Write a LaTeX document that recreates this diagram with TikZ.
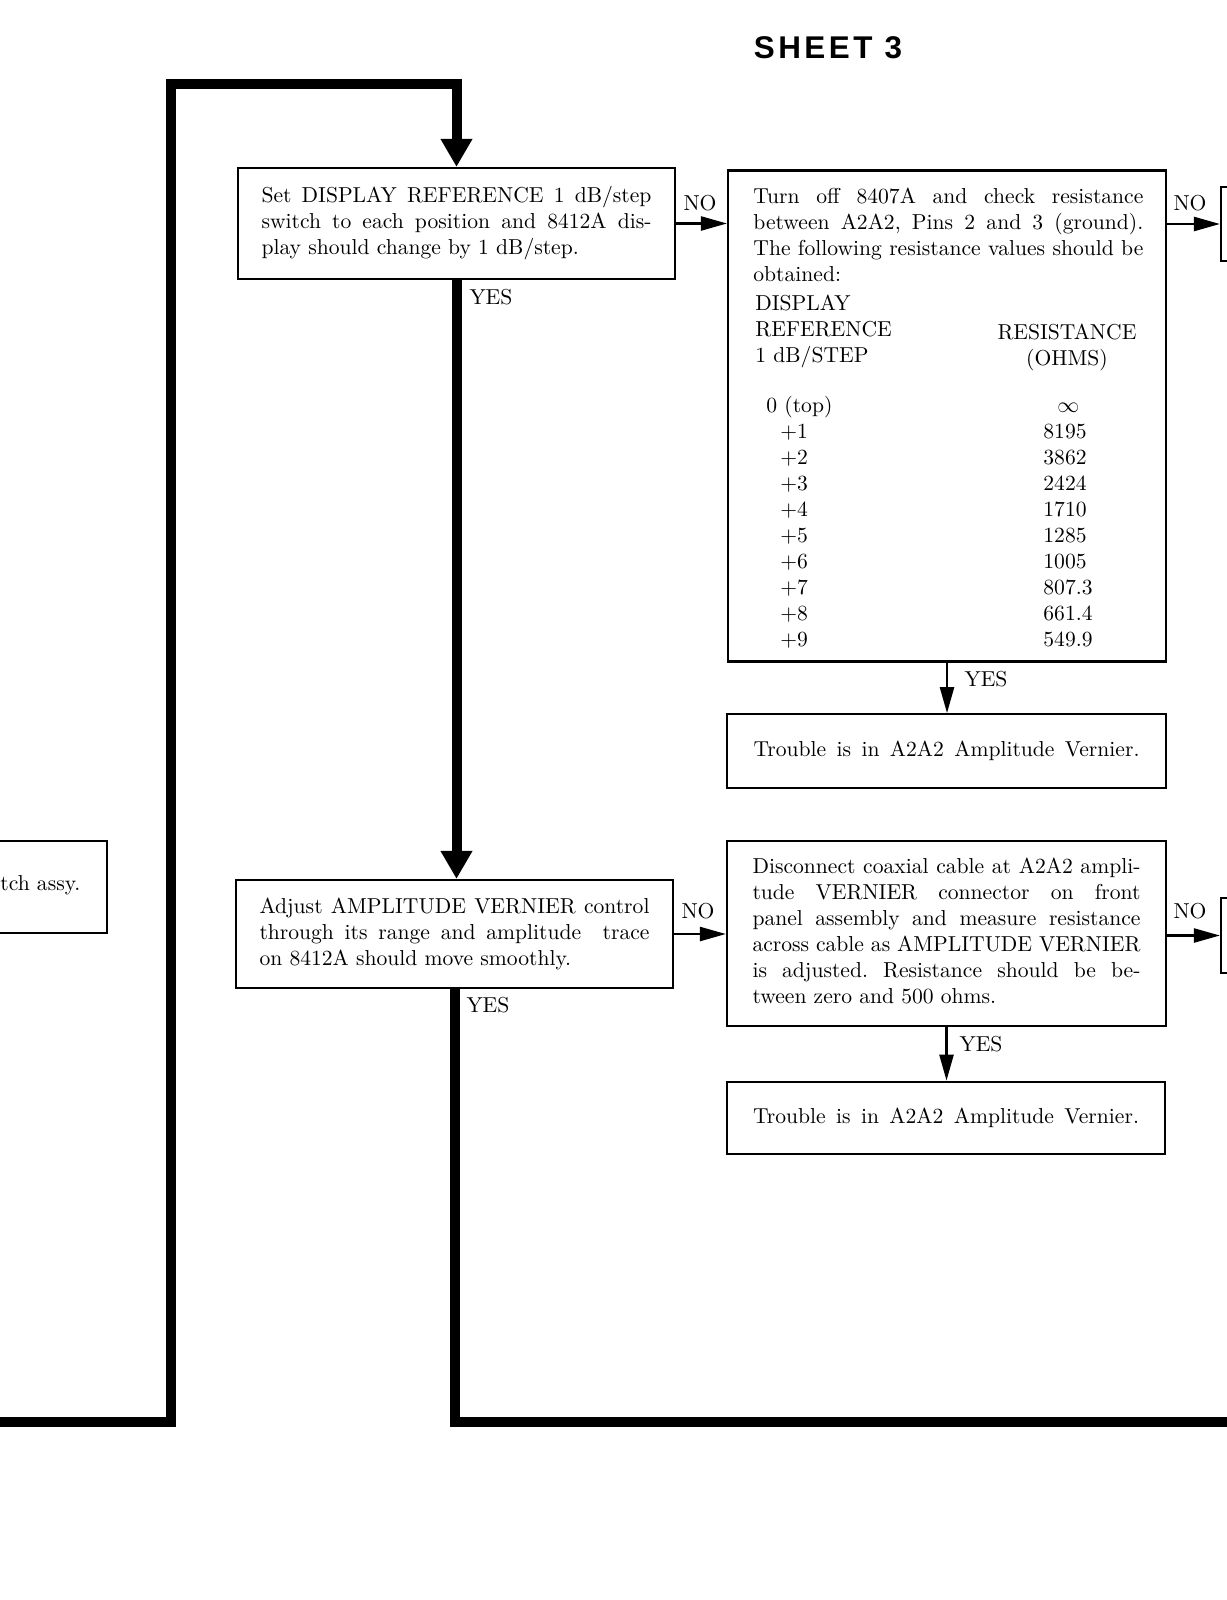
\documentclass[tikz,border=0pt]{standalone}
\usepackage{fontspec}
\newfontfamily\sheetfont[LetterSpace=11]{Liberation Sans}
\usetikzlibrary{arrows.meta}
\newcommand\bodyfont{\fontsize{10.8pt}{13pt}\selectfont\frenchspacing}
\newcommand\jline[2]{\makebox[#1][s]{#2}}
\begin{document}
\begin{tikzpicture}[x=0.5pt,y=-0.5pt,
 every node/.style={font=\bodyfont, inner sep=0pt},
 box/.style={draw, line width=1.1pt, align=left},
 txt/.style={align=left},
 thickln/.style={line width=5pt, line join=miter},
 bigtip/.style={-{Triangle[width=15pt,length=14pt]}},
 flowarrow/.style={line width=1.2pt, -{Triangle[width=7pt,length=13pt]}}]

\useasboundingbox (0,0) rectangle (1226,1600);

\node[font=\sheetfont\bfseries\fontsize{15.7pt}{18pt}\selectfont] (title) at (828,48) {SHEET 3};

% boxes
\node[box, minimum width=218.5pt, minimum height=55.5pt] (b1) at (456.5,223.5)
 {\strut\jline{195pt}{Set DISPLAY REFERENCE 1 dB/step}\\
  \strut\jline{195pt}{switch to each position and 8412A dis-}\\
  \strut play should change by 1 dB/step.};

\node[box, minimum width=218.5pt, minimum height=54pt] (b2) at (454.5,934)
 {\strut\jline{195pt}{Adjust AMPLITUDE VERNIER control}\\
  \strut\jline{195pt}{through its range and amplitude \ trace}\\
  \strut on 8412A should move smoothly.};

\node[box, minimum width=219pt, minimum height=245.5pt] (b3) at (947,416) {};
\node[txt, anchor=north west] (p3) at (753,184.8)
 {\strut\jline{195pt}{Turn off 8407A and check resistance}\\
  \strut\jline{195pt}{between A2A2, Pins 2 and 3 (ground).}\\
  \strut\jline{195pt}{The following resistance values should be}\\
  \strut obtained:};
\node[txt, anchor=north west] (h1) at (755,291.8)
 {\strut DISPLAY\\ \strut REFERENCE\\ \strut 1 dB/STEP};
\node[align=center, anchor=north] (h2) at (1067,320.8)
 {\strut RESISTANCE\\ \strut (OHMS)};
\node[txt, anchor=north west] (tl) at (766,393.8)
 {\strut 0 (top)\\ \strut\hspace*{7pt}+1\\ \strut\hspace*{7pt}+2\\ \strut\hspace*{7pt}+3\\
  \strut\hspace*{7pt}+4\\ \strut\hspace*{7pt}+5\\ \strut\hspace*{7pt}+6\\ \strut\hspace*{7pt}+7\\
  \strut\hspace*{7pt}+8\\ \strut\hspace*{7pt}+9};
\node[txt, anchor=north west] (tr) at (1043,393.8)
 {\strut\hspace*{7pt}$\infty$\\ \strut 8195\\ \strut 3862\\ \strut 2424\\ \strut 1710\\
  \strut 1285\\ \strut 1005\\ \strut 807.3\\ \strut 661.4\\ \strut 549.9};

\node[box, minimum width=219.5pt, minimum height=36.75pt] (b4) at (946.5,751)
 {\strut\jline{193pt}{Trouble is in A2A2 Amplitude Vernier.}};

\node[box, minimum width=219.5pt, minimum height=92.5pt] (b5) at (946.5,933.5)
 {\strut\jline{194pt}{Disconnect coaxial cable at A2A2 ampli-}\\
  \strut\jline{194pt}{tude VERNIER connector on front}\\
  \strut\jline{194pt}{panel assembly and measure resistance}\\
  \strut\jline{194pt}{across cable as AMPLITUDE VERNIER}\\
  \strut\jline{194pt}{is adjusted. Resistance should be be-}\\
  \strut tween zero and 500 ohms.};

\node[box, minimum width=219pt, minimum height=36.25pt] (b6) at (946,1118)
 {\strut\jline{193pt}{Trouble is in A2A2 Amplitude Vernier.}};

% partial boxes at the page edges
\node[box, minimum width=103.5pt, minimum height=46pt] (lp) at (3.5,887) {};
\node[anchor=base west] (lpt) at (0,890) {tch assy.};
\node[box, minimum width=100pt, minimum height=37pt] (rp1) at (1321,224) {};
\node[box, minimum width=100pt, minimum height=37.5pt] (rp2) at (1321,935.5) {};

% thick flow lines
\coordinate (lb) at (-20,1422);
\coordinate (lc) at (171,1422);
\coordinate (tc) at (171,84);
\coordinate (rb) at (1250,1422);
\draw[thickln, bigtip] (lb) -- (lc) -- (tc) -| (b1.north);
\draw[thickln, bigtip] (b1.south) -- (b1.south |- b2.north);
\draw[thickln] (b2.south) -- (b2.south |- rb) -- (rb);

% thin arrows
\draw[flowarrow] (b1.east) -- (b1.east -| b3.west);
\draw[flowarrow] (b2.east) -- (b2.east -| b5.west);
\draw[flowarrow] (rp1.west -| b3.east) -- (rp1.west);
\draw[flowarrow] (rp2.west -| b5.east) -- (rp2.west);
\draw[flowarrow] (b3.south) -- (b3.south |- b4.north);
\draw[flowarrow] (b5.south) -- (b5.south |- b6.north);

% labels
\node (no1) at (700,203) {NO};
\node (no2) at (698,911) {NO};
\node (no3) at (1190,203) {NO};
\node (no4) at (1190,911.5) {NO};
\node (yes1) at (491,297) {YES};
\node (yes2) at (488,1005) {YES};
\node (yes3) at (986,679) {YES};
\node (yes4) at (981,1044) {YES};
\end{tikzpicture}
\end{document}
